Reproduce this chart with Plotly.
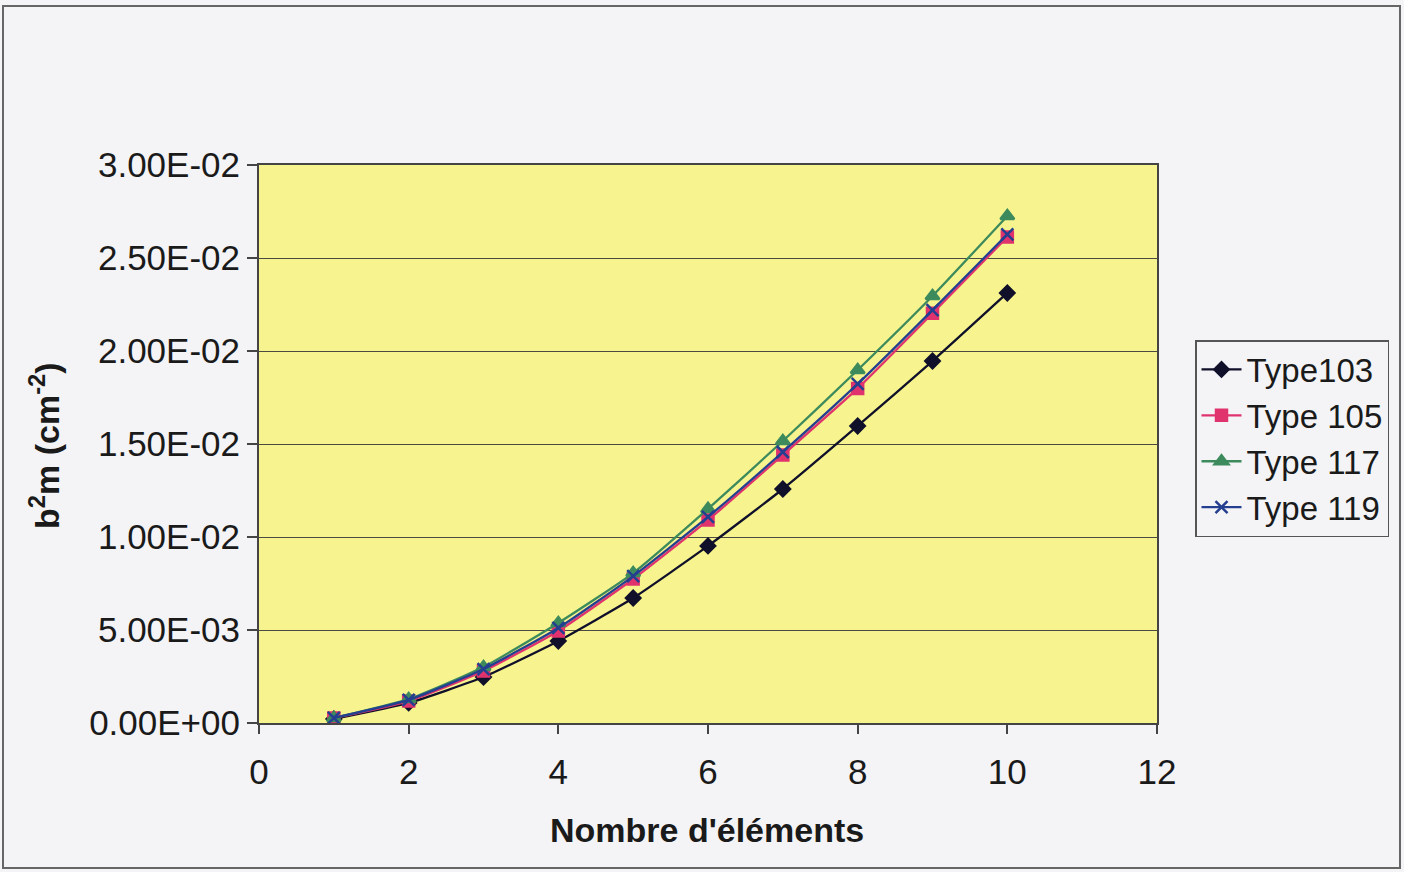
import plotly.graph_objects as go

x_elements = [1, 2, 3, 4, 5, 6, 7, 8, 9, 10]
type103 = [0.00022, 0.00108, 0.00247, 0.00441, 0.00672, 0.00952, 0.01258, 0.01597, 0.01946, 0.02312]
type105 = [0.00027, 0.00118, 0.00280, 0.00495, 0.00774, 0.01091, 0.01441, 0.01799, 0.02203, 0.02613]
type117 = [0.00027, 0.00129, 0.00301, 0.00538, 0.00806, 0.01151, 0.01516, 0.01898, 0.02296, 0.02726]
type119 = [0.00027, 0.00124, 0.00290, 0.00511, 0.00790, 0.01108, 0.01457, 0.01823, 0.02220, 0.02627]

y_tickvals = [0, 0.005, 0.01, 0.015, 0.02, 0.025, 0.03]
y_ticktext = ["0.00E+00", "5.00E-03", "1.00E-02", "1.50E-02", "2.00E-02", "2.50E-02", "3.00E-02"]
x_tickvals = [0, 2, 4, 6, 8, 10, 12]

series = [
    ("Type103", type103, "#10102a", "diamond", 11),
    ("Type 105", type105, "#e0336e", "square", 11),
    ("Type 117", type117, "#3d8a5c", "triangle-up", 12),
    ("Type 119", type119, "#243f8f", "x-thin", 12),
]

FONT = "Liberation Sans, Arial, sans-serif"

fig = go.Figure()
for name, vals, color, sym, size in series:
    fig.add_trace(go.Scatter(
        x=x_elements, y=vals, name=name, mode="lines+markers",
        line=dict(color=color, width=2.3, shape="spline", smoothing=0.5),
        marker=dict(symbol=sym, size=size, color=color,
                    line=dict(color=color, width=2.5)),
    ))

W, H = 1404, 872
L, R, T, B = 259, 1157, 165, 723
pw, ph = R - L, B - T

def px2x(px):
    return (px - L) / pw

def py2y(py):
    return (B - py) / ph

fig.update_layout(
    width=W, height=H,
    margin=dict(l=L, r=W - R, t=T, b=H - B),
    paper_bgcolor="#f4f4f6",
    plot_bgcolor="#f7f48f",
    font=dict(family=FONT, size=35, color="#1a1a1a"),
    showlegend=True,
    legend=dict(
        x=px2x(1195), y=py2y(340), xanchor="left", yanchor="top",
        bgcolor="#f4f4f6", bordercolor="#555555", borderwidth=1.5,
        font=dict(size=33, family=FONT, color="#1a1a1a"),
        tracegroupgap=0, itemwidth=40,
    ),
    xaxis=dict(
        range=[0, 12], tickvals=x_tickvals, ticks="outside", ticklen=9,
        tickwidth=1.5, tickcolor="#444444", ticklabelstandoff=8,
        showgrid=False, zeroline=False, showline=True, linecolor="#444444",
        linewidth=2, mirror=True,
        tickfont=dict(size=35, family=FONT),
    ),
    yaxis=dict(
        range=[0, 0.03], tickvals=y_tickvals, ticktext=y_ticktext,
        ticks="outside", ticklen=10, tickwidth=1.5, tickcolor="#444444",
        showgrid=True, gridcolor="#4a4a40", gridwidth=1,
        zeroline=False, showline=True, linecolor="#444444", linewidth=2,
        mirror=True, tickfont=dict(size=35, family=FONT),
    ),
    annotations=[
        dict(text="<b>Nombre d'éléments</b>", xref="paper", yref="paper",
             x=px2x(707), y=py2y(830), xanchor="center", yanchor="middle",
             showarrow=False, font=dict(size=34, family=FONT, color="#1a1a1a")),
        dict(text="<b>b<sup>2</sup>m (cm<sup>-2</sup>)</b>", xref="paper", yref="paper",
             x=px2x(45), y=py2y(446), xanchor="center", yanchor="middle",
             textangle=-90, showarrow=False,
             font=dict(size=34, family=FONT, color="#1a1a1a")),
    ],
    shapes=[
        dict(type="rect", xref="paper", yref="paper",
             x0=px2x(3), x1=px2x(1400), y0=py2y(868), y1=py2y(6),
             line=dict(color="#666666", width=2), layer="below"),
    ],
)

fig.write_html("out.html")
